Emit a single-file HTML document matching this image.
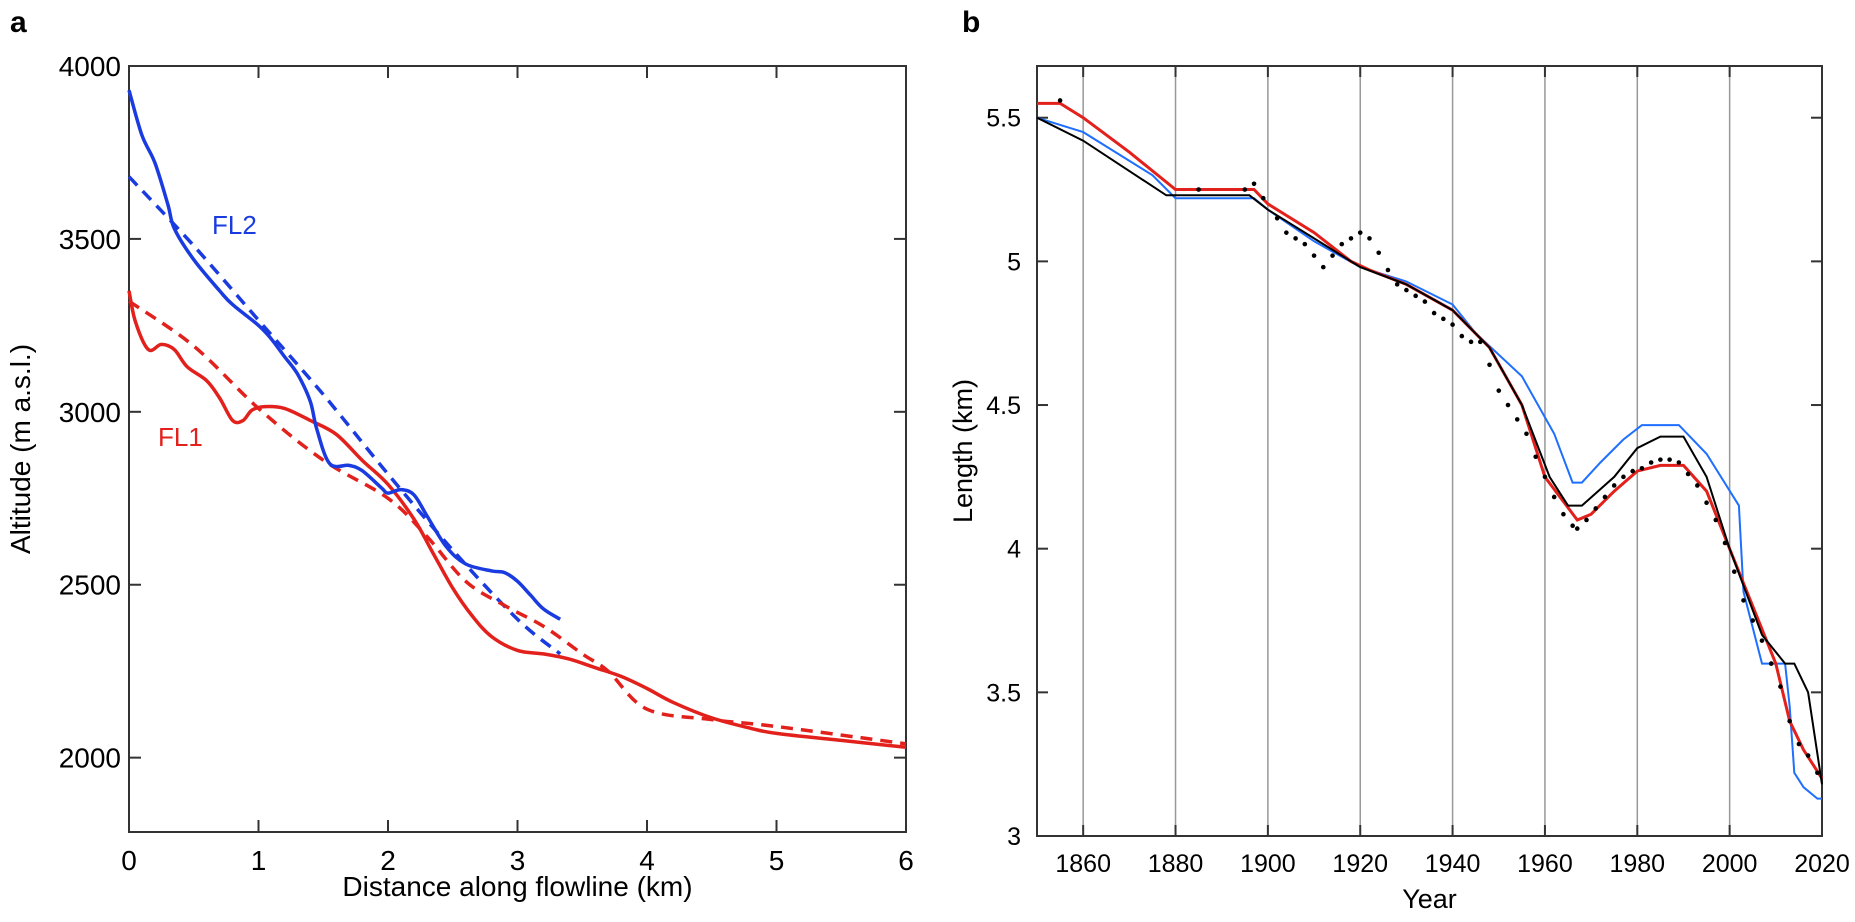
<!DOCTYPE html>
<html><head><meta charset="utf-8">
<style>
html,body{margin:0;padding:0;background:#fff;}
svg{display:block;font-family:"Liberation Sans",sans-serif;}
</style></head>
<body>
<svg id="fig" width="1855" height="922" viewBox="0 0 1855 922" xmlns="http://www.w3.org/2000/svg"></svg>
<script>
// ---- Panel a data ----
const fl2SolidKm = [0,0.1,0.2,0.3,0.35,0.5,0.7,0.8,1.0,1.1,1.2,1.3,1.4,1.45,1.55,1.7,1.8,1.95,2.0,2.1,2.2,2.3,2.45,2.6,2.8,2.9,3.0,3.1,3.2,3.33];
const fl2SolidAlt = [3930,3800,3720,3600,3530,3440,3350,3310,3250,3210,3160,3110,3030,2950,2850,2845,2830,2780,2765,2775,2760,2700,2610,2560,2540,2535,2510,2470,2430,2400];
const fl2DashKm = [0,0.5,1,1.5,2,2.5,3,3.33];
const fl2DashAlt = [3680,3480,3265,3050,2820,2600,2400,2300];
const fl1SolidKm = [0,0.05,0.15,0.25,0.35,0.45,0.6,0.7,0.8,0.88,0.95,1.05,1.2,1.4,1.6,1.8,2.0,2.2,2.35,2.5,2.65,2.8,3.0,3.2,3.4,3.6,3.8,4.0,4.2,4.5,4.8,5.0,5.5,6.0];
const fl1SolidAlt = [3350,3260,3180,3195,3180,3130,3090,3040,2975,2975,3005,3015,3010,2975,2935,2860,2790,2690,2590,2490,2410,2350,2310,2300,2285,2260,2235,2200,2160,2115,2085,2070,2050,2030];
const fl1DashKm = [0,0.5,1,1.5,2,2.3,2.6,2.9,3.2,3.5,3.7,4.0,4.5,5,6];
const fl1DashAlt = [3320,3190,3010,2860,2750,2640,2510,2440,2380,2300,2250,2140,2110,2090,2040];
const aXTicks = [0,1,2,3,4,5,6];
const aYTicks = [2000,2500,3000,3500,4000];
// ---- Panel b data ----
const redYears = [1850,1855,1860,1870,1880,1897,1900,1910,1918,1922,1930,1940,1948,1955,1960,1967,1970,1975,1980,1985,1990,1995,2000,2005,2010,2013,2016,2020];
const redLen = [5.55,5.55,5.50,5.38,5.25,5.25,5.20,5.10,5.00,4.97,4.92,4.83,4.70,4.50,4.25,4.10,4.12,4.20,4.27,4.29,4.29,4.20,4.00,3.80,3.60,3.40,3.30,3.20];
const blueYears = [1850,1860,1875,1880,1897,1900,1910,1920,1930,1940,1945,1955,1962,1966,1968,1972,1977,1981,1989,1995,2002,2003,2007,2012,2013,2014,2016,2019,2020];
const blueLen = [5.50,5.45,5.30,5.22,5.22,5.18,5.07,4.98,4.93,4.85,4.75,4.60,4.40,4.23,4.23,4.30,4.38,4.43,4.43,4.33,4.15,3.85,3.60,3.60,3.45,3.22,3.17,3.13,3.13];
const blackYears = [1850,1860,1878,1896,1900,1910,1920,1930,1940,1948,1955,1961,1965,1968,1975,1980,1985,1990,1995,2000,2007,2012,2014,2017,2020];
const blackLen = [5.50,5.42,5.23,5.23,5.18,5.08,4.98,4.92,4.83,4.70,4.50,4.25,4.15,4.15,4.25,4.35,4.39,4.39,4.25,4.00,3.70,3.60,3.60,3.50,3.18];
const obsYears = [1855,1885,1895,1897,1899,1902,1904,1906,1908,1910,1912,1914,1916,1918,1920,1922,1924,1926,1928,1930,1932,1934,1936,1938,1940,1942,1944,1946,1948,1950,1952,1954,1956,1958,1960,1962,1964,1966,1967,1969,1971,1973,1975,1977,1979,1981,1983,1985,1987,1989,1991,1993,1995,1997,1999,2001,2003,2005,2007,2009,2011,2013,2015,2017,2019];
const obsLen = [5.56,5.25,5.25,5.27,5.22,5.15,5.10,5.08,5.06,5.02,4.98,5.02,5.06,5.08,5.10,5.08,5.03,4.97,4.92,4.90,4.88,4.86,4.82,4.80,4.78,4.74,4.72,4.72,4.64,4.55,4.50,4.45,4.40,4.32,4.25,4.18,4.12,4.08,4.07,4.10,4.14,4.18,4.22,4.25,4.27,4.28,4.30,4.31,4.31,4.30,4.26,4.22,4.16,4.10,4.02,3.92,3.82,3.75,3.68,3.60,3.52,3.40,3.32,3.28,3.22];
const bXTicks = [1860,1880,1900,1920,1940,1960,1980,2000,2020];
const bYTicks = [3,3.5,4,4.5,5,5.5];

const NS="http://www.w3.org/2000/svg";
const svg=document.getElementById('fig');
function mk(tag,attrs,parent){const e=document.createElementNS(NS,tag);for(const k in attrs)e.setAttribute(k,attrs[k]);(parent||svg).appendChild(e);return e;}
function txt(s,attrs,parent){const e=mk('text',attrs,parent);e.textContent=s;return e;}

const A={l:129,r:906,t:66,b:832,x0:0,x1:6,y0:1785,y1:4000};
const ax=v=>A.l+(v-A.x0)/(A.x1-A.x0)*(A.r-A.l);
const ay=v=>A.b-(v-A.y0)/(A.y1-A.y0)*(A.b-A.t);
const B={l:1037,r:1822,t:66,b:836,x0:1850,x1:2020,y0:3,y1:5.68};
const bx=v=>B.l+(v-B.x0)/(B.x1-B.x0)*(B.r-B.l);
const by=v=>B.b-(v-B.y0)/(B.y1-B.y0)*(B.b-B.t);

function path(xs,ys,fx,fy){return xs.map((x,i)=>(i?'L':'M')+fx(x).toFixed(1)+','+fy(ys[i]).toFixed(1)).join(' ');}
function smooth(xs,ys,fx,fy){
  const p=xs.map((x,i)=>[fx(x),fy(ys[i])]);
  let d='M'+p[0][0].toFixed(1)+','+p[0][1].toFixed(1);
  for(let i=0;i<p.length-1;i++){
    const p0=p[i-1]||p[i],p1=p[i],p2=p[i+1],p3=p[i+2]||p2;
    const c1=[p1[0]+(p2[0]-p0[0])/6,p1[1]+(p2[1]-p0[1])/6];
    const c2=[p2[0]-(p3[0]-p1[0])/6,p2[1]-(p3[1]-p1[1])/6];
    d+=' C'+c1.map(v=>v.toFixed(1)).join(',')+' '+c2.map(v=>v.toFixed(1)).join(',')+' '+p2.map(v=>v.toFixed(1)).join(',');
  }
  return d;
}

// ---------- Panel a ----------
const ga=mk('g',{});


const pl=txt('a',{x:10,y:32,'font-size':30,'font-weight':'bold'},ga);

const fa=mk('rect',{x:A.l,y:A.t,width:A.r-A.l,height:A.b-A.t,fill:'none',stroke:'#333','stroke-width':2},ga);

aXTicks.forEach(v=>{
  const x=ax(v);
  if(v>0&&v<6){mk('line',{x1:x,y1:A.b,x2:x,y2:A.b-12,stroke:'#333','stroke-width':2},ga);mk('line',{x1:x,y1:A.t,x2:x,y2:A.t+12,stroke:'#333','stroke-width':2},ga);}
  const t=txt(String(v),{x:x,y:A.b+38,'font-size':28,'text-anchor':'middle'},ga);
  
});
aYTicks.forEach(v=>{
  const y=ay(v);
  mk('line',{x1:A.l,y1:y,x2:A.l+12,y2:y,stroke:'#333','stroke-width':2},ga);
  mk('line',{x1:A.r,y1:y,x2:A.r-12,y2:y,stroke:'#333','stroke-width':2},ga);
  const t=txt(String(v),{x:A.l-8,y:y+10,'font-size':28,'text-anchor':'end'},ga);
  
});
const xat=txt('Distance along flowline (km)',{x:(A.l+A.r)/2,y:896,'font-size':28,'text-anchor':'middle'},ga);

const yat=txt('Altitude (m a.s.l.)',{x:0,y:0,'font-size':28,'text-anchor':'middle',transform:`translate(30,${(A.t+A.b)/2}) rotate(-90)`},ga);

const blue='#1a3be0',red='#e3211c';
const l1=mk('path',{d:smooth(fl2DashKm,fl2DashAlt,ax,ay),fill:'none',stroke:blue,'stroke-width':3.5,'stroke-dasharray':'12,8'},ga);

const l2=mk('path',{d:smooth(fl1DashKm,fl1DashAlt,ax,ay),fill:'none',stroke:red,'stroke-width':3.5,'stroke-dasharray':'12,8'},ga);

const l3=mk('path',{d:smooth(fl1SolidKm,fl1SolidAlt,ax,ay),fill:'none',stroke:red,'stroke-width':3.5},ga);

const l4=mk('path',{d:smooth(fl2SolidKm,fl2SolidAlt,ax,ay),fill:'none',stroke:blue,'stroke-width':3.5},ga);

const lb2=txt('FL2',{x:212,y:234,'font-size':26,fill:blue},ga);

const lb1=txt('FL1',{x:158,y:446,'font-size':26,fill:red},ga);


// ---------- Panel b ----------
const gb=mk('g',{});


const plb=txt('b',{x:962,y:32,'font-size':30,'font-weight':'bold'},gb);

bXTicks.forEach(v=>{
  const x=bx(v);
  if(v<2020){const g=mk('line',{x1:x,y1:B.t,x2:x,y2:B.b,stroke:'#999','stroke-width':1.5},gb);
  
  mk('line',{x1:x,y1:B.b,x2:x,y2:B.b-11,stroke:'#333','stroke-width':2},gb);mk('line',{x1:x,y1:B.t,x2:x,y2:B.t+11,stroke:'#333','stroke-width':2},gb);}
  const t=txt(String(v),{x:x,y:B.b+36,'font-size':25,'text-anchor':'middle'},gb);
  
});
bYTicks.forEach(v=>{
  const y=by(v);
  mk('line',{x1:B.l,y1:y,x2:B.l+11,y2:y,stroke:'#333','stroke-width':2},gb);
  mk('line',{x1:B.r,y1:y,x2:B.r-11,y2:y,stroke:'#333','stroke-width':2},gb);
  const t=txt(String(v),{x:B.l-16,y:y+9,'font-size':25,'text-anchor':'end'},gb);
  
});
const fb=mk('rect',{x:B.l,y:B.t,width:B.r-B.l,height:B.b-B.t,fill:'none',stroke:'#333','stroke-width':2},gb);

const bxt=txt('Year',{x:(B.l+B.r)/2,y:908,'font-size':27,'text-anchor':'middle'},gb);

const byt=txt('Length (km)',{x:0,y:0,'font-size':27,'text-anchor':'middle',transform:`translate(972,${(B.t+B.b)/2}) rotate(-90)`},gb);

const sb=mk('path',{d:path(blueYears,blueLen,bx,by),fill:'none',stroke:'#1f6fff','stroke-width':2},gb);

const sr=mk('path',{d:path(redYears,redLen,bx,by),fill:'none',stroke:'#e3211c','stroke-width':3},gb);

const sk=mk('path',{d:path(blackYears,blackLen,bx,by),fill:'none',stroke:'#000','stroke-width':2},gb);

obsYears.forEach((yr,i)=>{
  const c=mk('circle',{cx:bx(yr),cy:by(obsLen[i]),r:2.3,fill:'#000'},gb);
  
  
});
</script>
</body></html>
